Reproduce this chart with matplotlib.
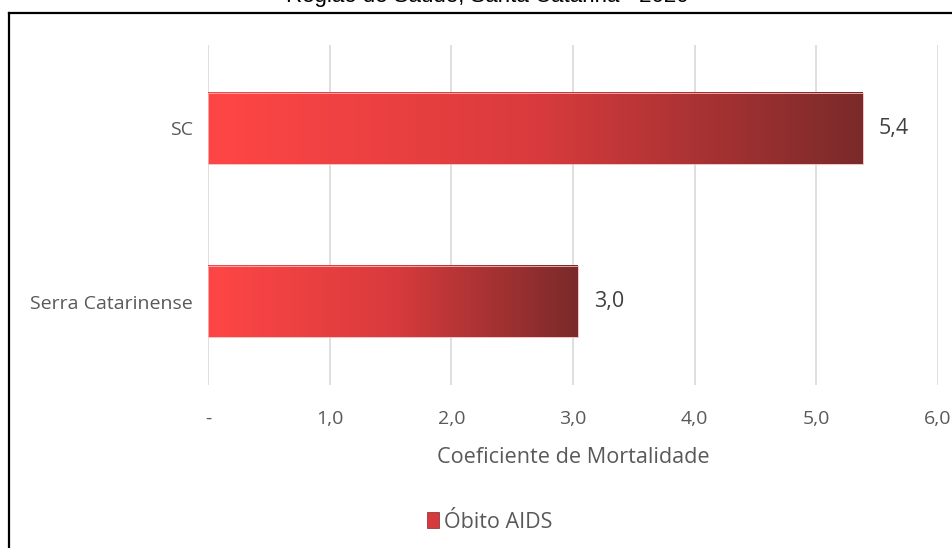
import matplotlib.pyplot as plt
import numpy as np
from matplotlib.colors import LinearSegmentedColormap
from matplotlib.patches import Patch
from matplotlib.lines import Line2D

plt.rcParams['font.family'] = ['Open Sans', 'DejaVu Sans']

categories = ['Serra Catarinense', 'SC']
values = [3.04, 5.38]
value_labels = ['3,0', '5,4']
xticks = [0, 1, 2, 3, 4, 5, 6]
xtick_labels = ['-', '1,0', '2,0', '3,0', '4,0', '5,0', '6,0']
series_name = 'Óbito AIDS'

W, H = 952, 548
fig = plt.figure(figsize=(W / 100, H / 100), dpi=100)
ax = fig.add_axes([208 / W, 1 - 385 / H, (938 - 208) / W, (385 - 45) / H])

cmap = LinearSegmentedColormap.from_list('bar', ['#FF4646', '#D93B3D', '#7A2A2A'])
grad = np.linspace(0, 1, 256).reshape(1, -1)
bar_h = 0.41
ypos = np.arange(len(categories))

for y, v, lab in zip(ypos, values, value_labels):
    ax.imshow(grad, cmap=cmap, aspect='auto', extent=[0, v, y - bar_h / 2, y + bar_h / 2],
              interpolation='bicubic', zorder=2)
    ax.barh(y, v, height=bar_h, facecolor='none', edgecolor='#F2B8B8', linewidth=0.6, zorder=3)
    ax.text(v + 0.13, y, lab, ha='left', va='center', fontsize=15.5, color='#404040')

ax.set_xlim(0, 6)
ax.set_ylim(-0.48, 1.48)
ax.set_yticks(ypos)
ax.set_yticklabels(categories, fontsize=14, color='#595959')
ax.set_xticks(xticks)
ax.set_xticklabels(xtick_labels, fontsize=14, color='#595959')
ax.tick_params(axis='x', length=0, pad=18)
ax.tick_params(axis='y', length=0, pad=11)
ax.grid(True, axis='x', color='#D9D9D9', linewidth=1.2, zorder=0)
ax.set_axisbelow(True)
for s in ax.spines.values():
    s.set_visible(False)
ax.set_xlabel('Coeficiente de Mortalidade', fontsize=15.6, color='#595959', labelpad=14)

fig.legend(handles=[Patch(facecolor='#D63A3C', edgecolor='#7A2A2A', linewidth=0.5, label=series_name)],
           loc='center', bbox_to_anchor=(490 / W, 1 - 522 / H), frameon=False,
           fontsize=15.5, handlelength=0.55, handleheight=0.75, handletextpad=0.25, labelcolor='#595959')

# outer frame of the original chart box
fig.add_artist(Line2D([8.5 / W, 1], [1 - 12.5 / H, 1 - 12.5 / H], color='black', linewidth=1.6))
fig.add_artist(Line2D([8.5 / W, 8.5 / W], [0, 1 - 12.5 / H], color='black', linewidth=1.6))

fig.text(487 / W, 1 - 2 / H, 'Região de Saúde, Santa Catarina - 2020', ha='center', va='baseline',
         fontsize=16, family='Liberation Sans', color='black')

fig.savefig('out.png', dpi=100)
